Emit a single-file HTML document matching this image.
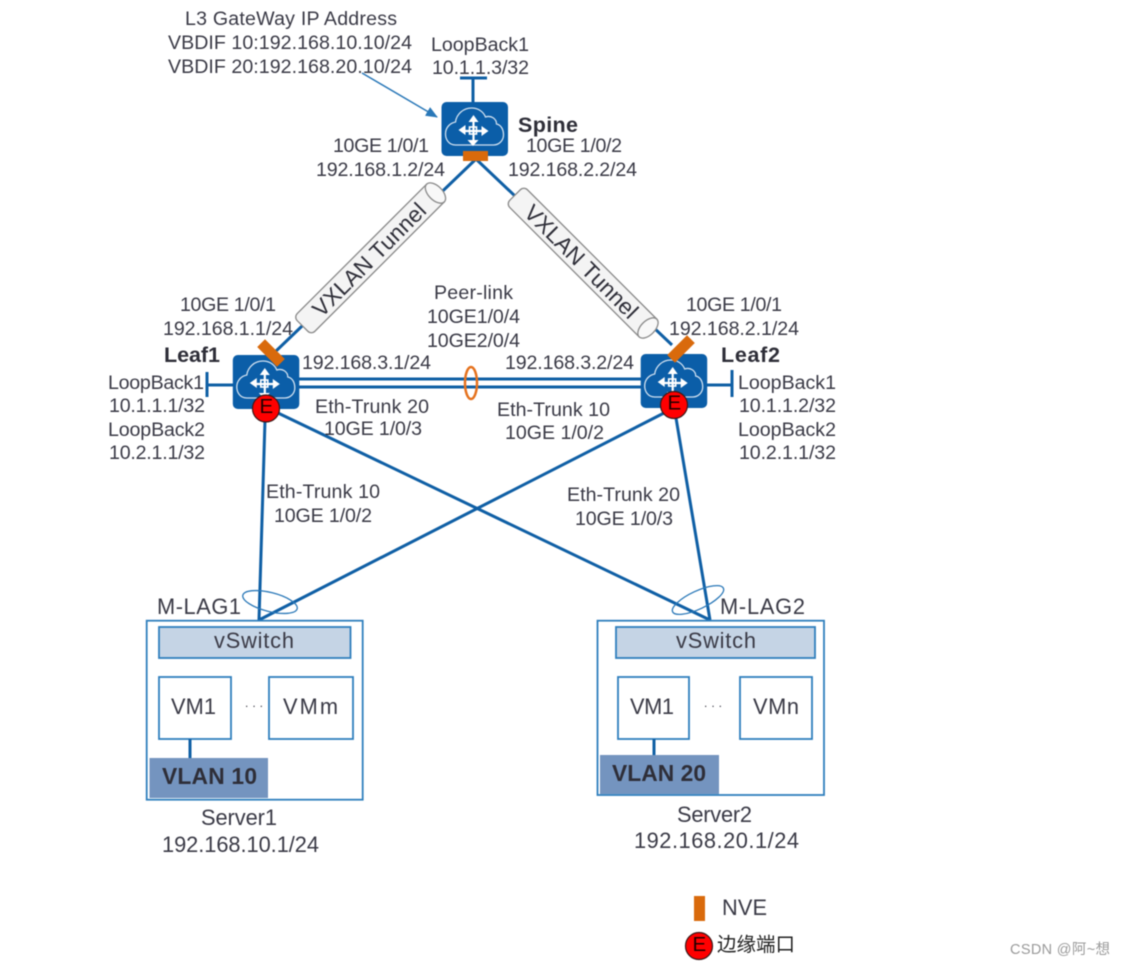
<!DOCTYPE html>
<html>
<head>
<meta charset="utf-8">
<style>
html,body{margin:0;padding:0;background:#fff;width:1125px;height:964px;overflow:hidden}
svg{display:block;filter:blur(.5px)}
text{font-family:"Liberation Sans","Noto Sans CJK SC",sans-serif;font-size:19.6px;fill:#3a3a46}
.m{font-size:21.8px}
.b{font-weight:bold;font-size:21.5px;fill:#2e2e38}
.v{font-weight:bold;font-size:22.8px;fill:#2e2e38}
.l{stroke:#0f5fa5;stroke-width:3;fill:none}
.t{stroke:#2a78b8;stroke-width:1.5;fill:none}
.box{stroke:#2f7fbd;stroke-width:1.8;fill:#fff}
.sw{stroke:#2f7fbd;stroke-width:1.8;fill:#c5d4e5}
.vl{fill:#7494bf}
.o{fill:#d96a0c}
.e{fill:#f00;stroke:#3a1a1a;stroke-width:1.2}
.x{font-size:20.5px;fill:#200}
</style>
</head>
<body>
<svg width="1125" height="964" viewBox="0 0 1125 964" xmlns="http://www.w3.org/2000/svg">
<defs>
<g id="sw">
<rect x="0" y="0" width="66.500" height="54" rx="5" fill="#0b5ea8"/>
<path d="M14 43C7 43 4 37 4 32C4 25 9 21 14 20C15 12 22 6 30 6C37 6 42 10 44 15C50 13 55 17 55 22C60 23 62 28 62 33C62 39 57 43 52 43Z" fill="none" stroke="#cfe0f0" stroke-width="1.3"/>
<g stroke="#fff" stroke-width="2.2" fill="#fff">
<path d="M32 29V18M32 29H22M32 29V39M32 29H42" fill="none"/>
<path d="M32 13l-5 7h10zM17 28l7-5v10zM26 38h11l-5.500 6zM47 29l-7-5v10z" stroke="none"/>
<rect x="28" y="25" width="7" height="7" fill="none" stroke-width="1.6"/>
</g>
</g>
<g id="tun">
<path d="M94 -12.500H-89a5 5 0 0 0 -5 5V7.500a5 5 0 0 0 5 5H94Z" fill="#f4f4f4" stroke="#8a8a8a" stroke-width="1.3"/>
<ellipse cx="94" cy="0" rx="7" ry="12.500" fill="#f8f8f8" stroke="#8a8a8a" stroke-width="1.3"/>
</g>
<marker id="ah" markerWidth="12" markerHeight="10" refX="11" refY="5" orient="auto" markerUnits="userSpaceOnUse">
<path d="M0 0L12 5L0 10Z" fill="#2a78b8"/>
</marker>
</defs>

<!-- links -->
<path class="l" d="M475 160L275 352M477 160L672 345"/>
<path class="l" d="M299 379H641M299 387H641"/>
<path class="l" d="M265 420L259 620M278 413L710 620M664 413L259 620M676 418L710 620"/>
<path class="l" d="M473 78V102M460 78H487M208 385H233M207 372V397M707 385H733M732 370V397"/>
<path d="M362 73L437 117" stroke="#2a78b8" stroke-width="1.5" marker-end="url(#ah)"/>

<!-- tunnels -->
<g transform="translate(369 259.500) rotate(-45)"><use href="#tun"/>
<text x="-75" y="8" textLength="150" style="font-size:22.5px;fill:#2e2e38">VXLAN Tunnel</text></g>
<g transform="translate(581.500 261.500) rotate(45)"><use href="#tun"/>
<text x="-75" y="8" textLength="150" style="font-size:22.5px;fill:#2e2e38">VXLAN Tunnel</text></g>

<!-- switches -->
<use href="#sw" x="441.500" y="102"/>
<use href="#sw" x="232.800" y="355"/>
<use href="#sw" x="640.700" y="354"/>

<rect class="o" x="463" y="151" width="25" height="10"/>
<rect class="o" x="257" y="347.500" width="28" height="11" transform="rotate(45 271 353)"/>
<rect class="o" x="667" y="343.500" width="28" height="11" transform="rotate(-45 681 349)"/>

<circle class="e" cx="266" cy="408.500" r="13.500"/>
<text class="x" x="259.500" y="413">E</text>
<circle class="e" cx="674" cy="405" r="13.500"/>
<text class="x" x="667.500" y="409.500">E</text>

<ellipse cx="471" cy="383" rx="6" ry="16" fill="none" stroke="#e5721e" stroke-width="2.500"/>
<ellipse class="t" cx="270" cy="602" rx="28" ry="9.500" transform="rotate(14 270 602)" style="stroke-width:1.3"/>
<ellipse class="t" cx="698" cy="600" rx="28" ry="9" transform="rotate(-25 698 600)" style="stroke-width:1.3"/>

<!-- Server1 -->
<rect class="box" x="146.700" y="620.700" width="216" height="179" style="fill:none"/>
<rect class="sw" x="159" y="627" width="191.500" height="31"/>
<rect class="box" x="159" y="677" width="72" height="62"/>
<rect class="box" x="269" y="677" width="84" height="62"/>
<path class="l" d="M190 739V758"/>
<rect class="vl" x="149.500" y="758" width="118.500" height="40"/>
<text class="m" x="214" y="648" textLength="80">vSwitch</text>
<text class="m" x="171" y="714" textLength="45">VM1</text>
<text class="m" x="283" y="714" textLength="55">VMm</text>
<text x="245" y="707" textLength="18" style="font-size:12px">...</text>
<text class="v" x="162" y="784" textLength="95">VLAN 10</text>
<text class="m" x="201" y="825" textLength="76">Server1</text>
<text class="m" x="162" y="852" textLength="157">192.168.10.1/24</text>

<!-- Server2 -->
<rect class="box" x="597.500" y="620.700" width="226.500" height="174.300" style="fill:none"/>
<rect class="sw" x="616" y="627" width="199" height="31"/>
<rect class="box" x="618" y="677" width="71" height="62"/>
<rect class="box" x="740" y="677" width="72" height="62"/>
<path class="l" d="M654 739V755"/>
<rect class="vl" x="600" y="755" width="119" height="39"/>
<text class="m" x="676" y="648" textLength="80">vSwitch</text>
<text class="m" x="630" y="714" textLength="44">VM1</text>
<text class="m" x="753" y="714" textLength="46">VMn</text>
<text x="704" y="707" textLength="18" style="font-size:12px">...</text>
<text class="v" x="612" y="781" textLength="94">VLAN 20</text>
<text class="m" x="677" y="822" textLength="75">Server2</text>
<text class="m" x="634" y="848" textLength="165">192.168.20.1/24</text>

<!-- top labels -->
<text x="185" y="25" textLength="212">L3 GateWay IP Address</text>
<text x="168" y="49" textLength="244">VBDIF 10:192.168.10.10/24</text>
<text x="168" y="73" textLength="244">VBDIF 20:192.168.20.10/24</text>
<text x="431" y="51" textLength="98">LoopBack1</text>
<text x="432" y="74" textLength="97">10.1.1.3/32</text>
<text class="b" x="518" y="132" textLength="60">Spine</text>
<text x="333" y="152" textLength="96">10GE 1/0/1</text>
<text x="316" y="176" textLength="129">192.168.1.2/24</text>
<text x="526" y="152" textLength="96">10GE 1/0/2</text>
<text x="508" y="176" textLength="129">192.168.2.2/24</text>

<!-- Leaf1 labels -->
<text x="180" y="311" textLength="96">10GE 1/0/1</text>
<text x="163" y="335" textLength="130">192.168.1.1/24</text>
<text class="b" x="164" y="362" textLength="56">Leaf1</text>
<text x="302" y="369" textLength="129">192.168.3.1/24</text>
<text x="108" y="389" textLength="96">LoopBack1</text>
<text x="109" y="412" textLength="96">10.1.1.1/32</text>
<text x="108" y="436" textLength="97">LoopBack2</text>
<text x="109" y="459" textLength="96">10.2.1.1/32</text>
<text x="315" y="413" textLength="114">Eth-Trunk 20</text>
<text x="324" y="435" textLength="98">10GE 1/0/3</text>

<!-- Peer-link -->
<text x="434" y="299" textLength="79">Peer-link</text>
<text x="427" y="323" textLength="93">10GE1/0/4</text>
<text x="427" y="347" textLength="93">10GE2/0/4</text>

<!-- Leaf2 labels -->
<text x="686" y="311" textLength="96">10GE 1/0/1</text>
<text x="669" y="335" textLength="130">192.168.2.1/24</text>
<text class="b" x="721" y="362" textLength="59">Leaf2</text>
<text x="505" y="369" textLength="129">192.168.3.2/24</text>
<text x="738" y="389" textLength="98">LoopBack1</text>
<text x="739" y="412" textLength="97">10.1.1.2/32</text>
<text x="738" y="436" textLength="98">LoopBack2</text>
<text x="739" y="459" textLength="97">10.2.1.1/32</text>
<text x="497" y="416" textLength="113">Eth-Trunk 10</text>
<text x="505" y="439" textLength="99">10GE 1/0/2</text>

<!-- lower trunks -->
<text x="266" y="498" textLength="114">Eth-Trunk 10</text>
<text x="274" y="522" textLength="98">10GE 1/0/2</text>
<text x="567" y="501" textLength="113">Eth-Trunk 20</text>
<text x="575" y="525" textLength="98">10GE 1/0/3</text>
<text class="m" x="157" y="614" textLength="84">M-LAG1</text>
<text class="m" x="720" y="614" textLength="85">M-LAG2</text>

<!-- legend -->
<rect class="o" x="694" y="896" width="11" height="25"/>
<text class="m" x="722" y="915" textLength="45">NVE</text>
<circle class="e" cx="699" cy="946" r="13.500"/>
<text class="x" x="692.500" y="951">E</text>
<text x="717" y="951" style="font-size:19.5px;fill:#222">边缘端口</text>
<text x="1010" y="954" textLength="100" style="font-size:14.5px;fill:#9a9a9a">CSDN @阿~想</text>
</svg>
</body>
</html>
